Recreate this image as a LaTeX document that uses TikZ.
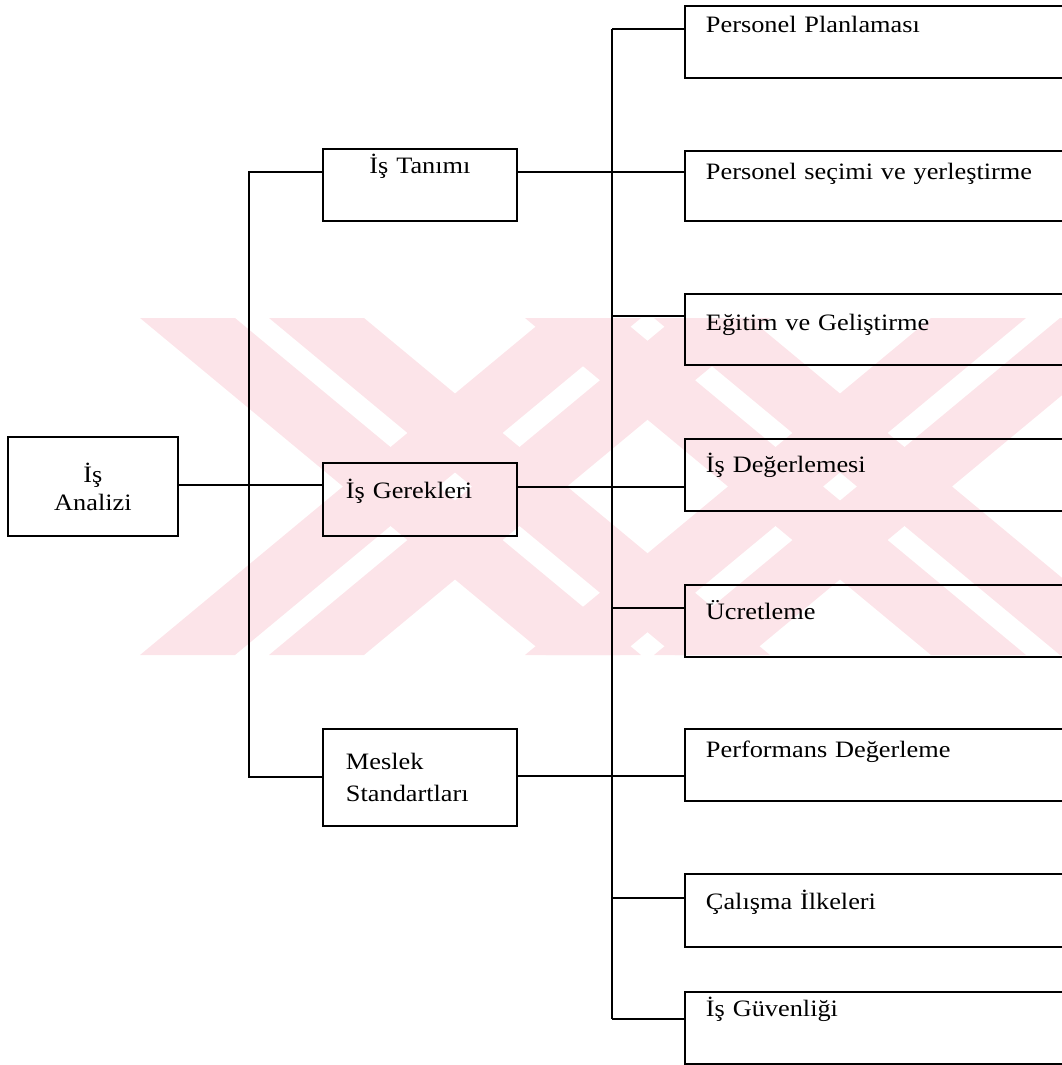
\documentclass[tikz,border=0pt]{standalone}
\usepackage{fontspec}
\setmainfont{Liberation Serif}[FakeStretch=1.12]
\usetikzlibrary{positioning,calc}

\definecolor{WM}{RGB}{252,228,233}

\tikzset{
  box/.style={draw, line width=1.9pt, anchor=north west, inner ysep=0pt,
              font=\fontsize{23.5}{28}\selectfont},
  midbox/.style 2 args={box, inner xsep=23pt, text width=148pt,
              text height=#1, text depth=#2},
  jobbox/.style 2 args={box, inner xsep=21pt, text width=358pt,
              align=left, text height=#1, text depth=#2},
  link/.style={line width=1.6pt},
  wm/.style={fill=WM},
}

\begin{document}
\begin{tikzpicture}[x=1pt, y=-1pt]

        \useasboundingbox (0,0) rectangle (1062,1065);

        %% ── watermark stripes FIRST (behind everything) ──

        \foreach \cx in {455,840}{
          \foreach \o in {-112,17}{
            \fill[wm] (\cx-203+\o,318) -- (\cx-108+\o,318)
              -- (\cx+298+\o,655) -- (\cx+203+\o,655) -- cycle;
            \fill[wm] (\cx+203+\o,318) -- (\cx+298+\o,318)
              -- (\cx-108+\o,655) -- (\cx-203+\o,655) -- cycle;
          }
        }

        %% ── left box ──────────────────────────────────

        \node[box, minimum width=170pt, minimum height=99pt,
              align=center, font=\fontsize{23.5}{28}\selectfont]
          (analiz) at (7,436) {İş\\Analizi};

        %% ── middle column ─────────────────────────────

        \node[midbox={25pt}{47pt}, align=center]
          (tanim) at (322,148) {İş Tanımı};
        \node[midbox={36pt}{37pt}, align=left]
          (gerek) at (322,462) {İş Gerekleri};
        \node[box, inner xsep=23pt, text width=148pt, align=left,
              minimum height=97pt, font=\fontsize{23.5}{32}\selectfont]
          (meslek) at (322,728) {Meslek\\Standartları};

        %% ── right column: name/top/height/depth/link ──

        \foreach \nm/\ya/\hg/\dg/\lk/\txt in {
            r1/5/27/45/29/Personel Planlaması,
            r2/150/29/41/172/Personel seçimi ve yerleştirme,
            r3/293/37/34/316/Eğitim ve Geliştirme,
            r4/438/34/38/487/İş Değerlemesi,
            r5/584/35/37/608/Ücretleme,
            r6/728/29/43/776/Performans Değerleme,
            r7/873/36/37/898/Çalışma İlkeleri,
            r8/991/25/47/1019/İş Güvenliği}{
          \node[jobbox={\hg pt}{\dg pt}] (\nm) at (684,\ya) {\txt};
          \coordinate (k\nm) at (612,\lk);
        }

        %% ── connections ───────────────────────────────

        \coordinate (ja) at (249,485);
        \coordinate (jt) at (249,172);
        \coordinate (jm) at (249,777);

        \draw[link] (ja -| analiz.east) -- (ja -| gerek.west);
        \draw[link] (jt -| tanim.west) -- (jt) -- (jm)
          -- (jm -| meslek.west);

        %% trunk to the right column
        \draw[link] (kr1) -- (kr8);

        \draw[link] (tanim.east |- kr2) -- (kr2 -| r2.west);
        \draw[link] (gerek.east |- kr4) -- (kr4 -| r4.west);
        \draw[link] (meslek.east |- kr6) -- (kr6 -| r6.west);

        \foreach \nm in {r1,r3,r5,r7,r8}{
          \draw[link] (k\nm) -- (k\nm -| \nm.west);
        }

      \end{tikzpicture}
\end{document}
